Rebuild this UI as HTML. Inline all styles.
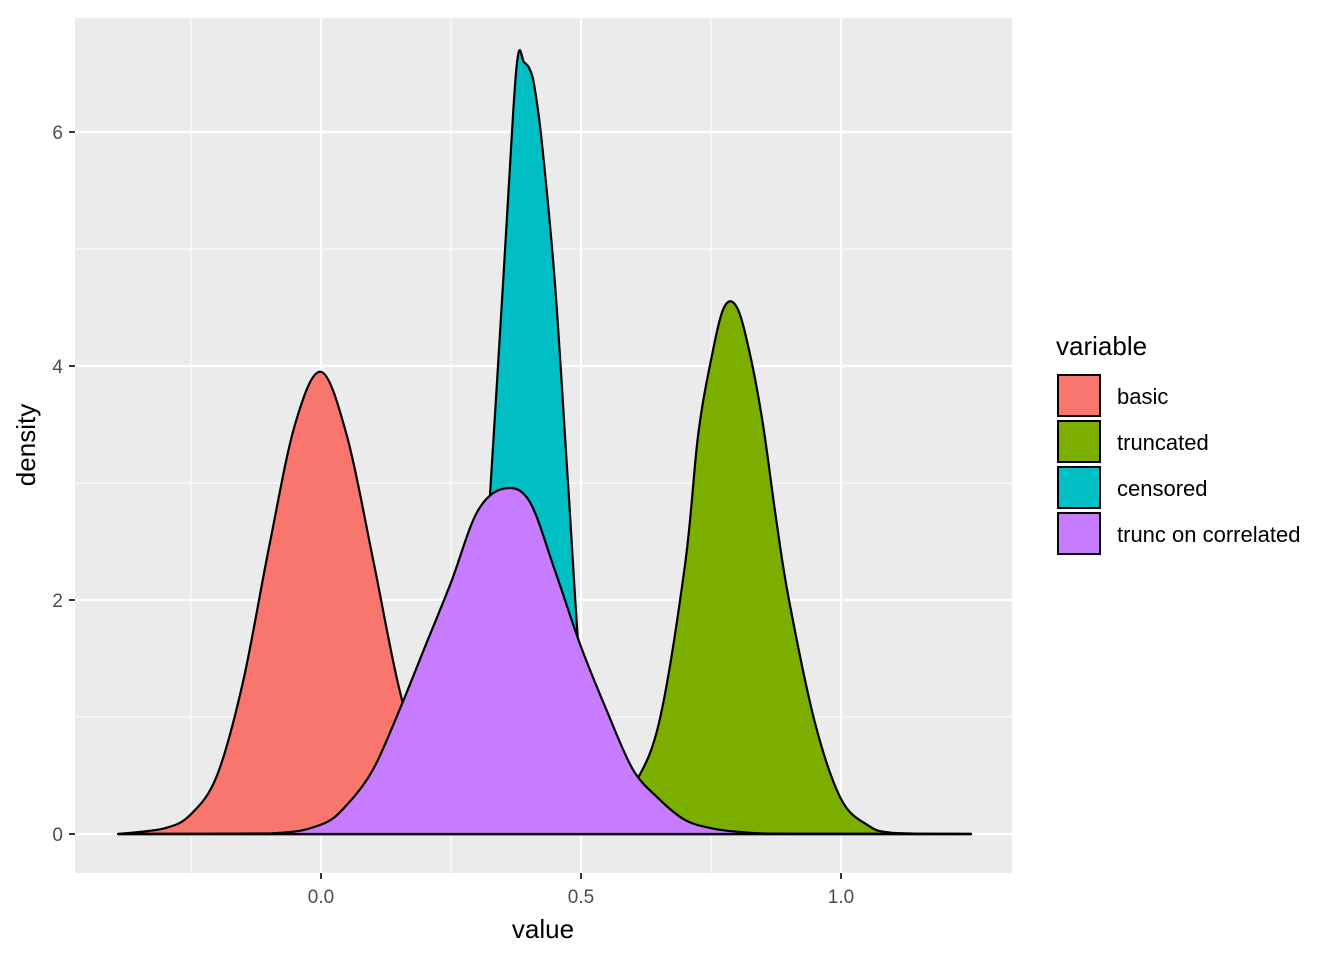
<!DOCTYPE html>
<html><head><meta charset="utf-8"><style>
body{margin:0;background:#fff;}
svg text{font-family:"Liberation Sans",Arial,sans-serif;}
</style></head><body>
<svg id="chart" width="1344" height="960" xmlns="http://www.w3.org/2000/svg">
<rect x="75" y="18" width="937" height="855" fill="#ebebeb"/>
<g id="grid"></g>
<g id="series"></g>
<g id="axes"></g>
<text x="543" y="938" font-size="26" text-anchor="middle" fill="#000">value</text>
<text transform="translate(35,445) rotate(-90)" font-size="26" text-anchor="middle" fill="#000">density</text>
<g>
<text x="1056" y="355" font-size="26" fill="#000">variable</text>
<g id="legend-items"></g>
</g>
</svg>
<script>
const seriesNames = ["basic","truncated","censored","trunc on correlated"];
const seriesColors = ["#F8766D","#7CAE00","#00BFC4","#C77CFF"];
const basicX = [-0.39,-0.3,-0.25,-0.2,-0.15,-0.1,-0.05,0.0,0.05,0.1,0.15,0.2,0.25,0.3,0.4,1.25];
const basicY = [0,0.05,0.17,0.5,1.3,2.45,3.5,3.95,3.4,2.35,1.25,0.5,0.15,0.04,0,0];
const truncX = [-0.39,0.45,0.55,0.6,0.65,0.7,0.725,0.75,0.775,0.8,0.825,0.85,0.875,0.9,0.95,1.0,1.05,1.1,1.25];
const truncY = [0,0,0.08,0.4,0.95,2.3,3.4,4.05,4.5,4.5,4.1,3.5,2.7,2.0,0.95,0.3,0.08,0.01,0];
const censX = [-0.39,0.2,0.25,0.275,0.3,0.325,0.35,0.37,0.38,0.39,0.4,0.41,0.425,0.45,0.475,0.5,0.525,0.55,0.6,1.25];
const censY = [0,0,0.1,0.4,1.2,2.9,4.7,6.2,6.68,6.6,6.55,6.4,5.9,4.7,3.0,1.3,0.4,0.1,0.01,0];
const corrX = [-0.39,-0.1,0,0.05,0.1,0.15,0.2,0.25,0.3,0.35,0.4,0.45,0.5,0.55,0.6,0.65,0.7,0.75,0.8,0.9,1.25];
const corrY = [0,0.005,0.08,0.25,0.55,1.05,1.6,2.15,2.75,2.95,2.85,2.25,1.6,1.05,0.55,0.3,0.12,0.05,0.02,0,0];
const xTicks = [0,0.5,1.0];
const xTickLabels = ["0.0","0.5","1.0"];
const xMinor = [-0.25,0.25,0.75];
const yTicks = [0,2,4,6];
const yTickLabels = ["0","2","4","6"];
const yMinor = [1,3,5];

const NS="http://www.w3.org/2000/svg";
const X = v => 321 + (v-0)*520;
const Y = v => 834 - v*117;
function mk(tag, attrs, parent){const e=document.createElementNS(NS,tag);for(const k in attrs)e.setAttribute(k,attrs[k]);parent.appendChild(e);return e;}
const grid=document.getElementById('grid'), axes=document.getElementById('axes'), ser=document.getElementById('series');
xMinor.forEach(v=>{const l=mk('line',{x1:X(v),x2:X(v),y1:18,y2:873,stroke:'#fff','stroke-width':1.1},grid);

});
yMinor.forEach(v=>{const l=mk('line',{x1:75,x2:1012,y1:Y(v),y2:Y(v),stroke:'#fff','stroke-width':1.1},grid);

});
xTicks.forEach((v,i)=>{const l=mk('line',{x1:X(v),x2:X(v),y1:18,y2:873,stroke:'#fff','stroke-width':2.2},grid);


mk('line',{x1:X(v),x2:X(v),y1:873,y2:879,stroke:'#333','stroke-width':2},axes);
const t=mk('text',{x:X(v),y:903,'font-size':19,'text-anchor':'middle',fill:'#4d4d4d'},axes);t.textContent=xTickLabels[i];

});
yTicks.forEach((v,i)=>{const l=mk('line',{x1:75,x2:1012,y1:Y(v),y2:Y(v),stroke:'#fff','stroke-width':2.2},grid);


mk('line',{x1:69,x2:75,y1:Y(v),y2:Y(v),stroke:'#333','stroke-width':2},axes);
const t=mk('text',{x:63,y:Y(v)+7,'font-size':19,'text-anchor':'end',fill:'#4d4d4d'},axes);t.textContent=yTickLabels[i];

});
function pathFor(xs,ys){
  const p=xs.map((x,i)=>[X(x),Y(ys[i])]);
  let d=`M${p[0][0]},${p[0][1]}`;
  for(let i=0;i<p.length-1;i++){
    const p0=p[Math.max(0,i-1)],p1=p[i],p2=p[i+1],p3=p[Math.min(p.length-1,i+2)];
    const c1=[p1[0]+(p2[0]-p0[0])/6, Math.min(834,p1[1]+(p2[1]-p0[1])/6)];
    const c2=[p2[0]-(p3[0]-p1[0])/6, Math.min(834,p2[1]-(p3[1]-p1[1])/6)];
    d+=` C${c1[0]},${c1[1]} ${c2[0]},${c2[1]} ${p2[0]},${p2[1]}`;
  }
  d+=` L${p[p.length-1][0]},834 L${p[0][0]},834 Z`;
  return d;
}
const allX=[basicX,truncX,censX,corrX], allY=[basicY,truncY,censY,corrY];
const names=['density-basic','density-truncated','density-censored','density-trunc-on-correlated'];
allX.forEach((xs,i)=>{const p=mk('path',{d:pathFor(xs,allY[i]),fill:seriesColors[i],stroke:'#000','stroke-width':2.2,'stroke-linejoin':'round'},ser);

});
const li=document.getElementById('legend-items');
seriesNames.forEach((n,i)=>{const y=375+i*46;
const r=mk('rect',{x:1058,y:y,width:42,height:41,fill:seriesColors[i],stroke:'#000','stroke-width':2},li);


const t=mk('text',{x:1117,y:y+29,'font-size':22,fill:'#000'},li);t.textContent=n;

});
</script>
</body></html>
